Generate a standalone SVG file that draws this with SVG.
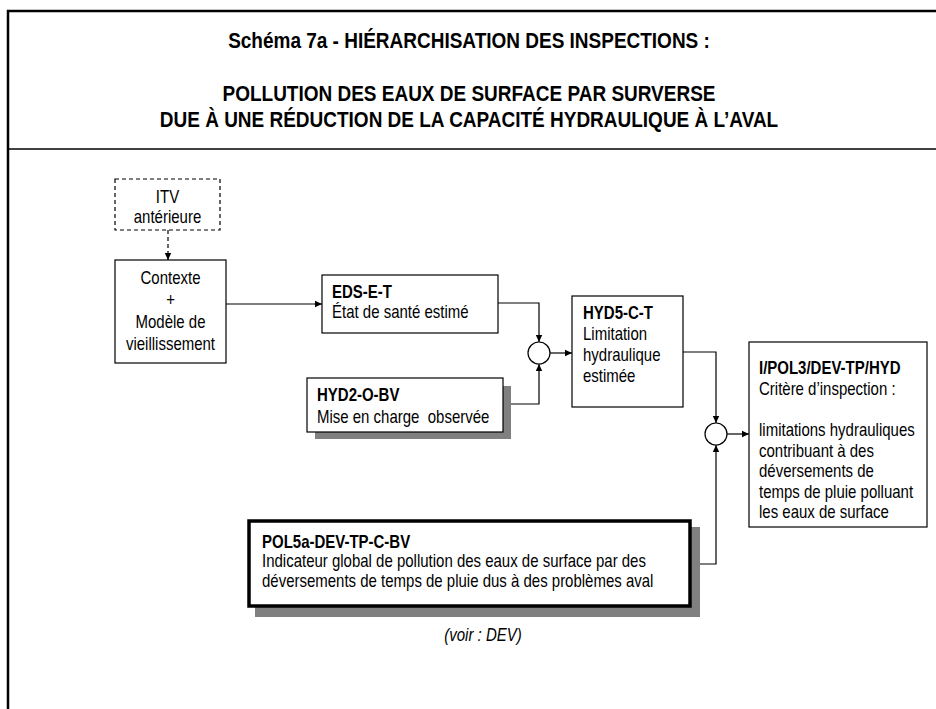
<svg xmlns="http://www.w3.org/2000/svg" width="936" height="709" viewBox="0 0 936 709">
<defs>
<marker id="arr" markerWidth="8" markerHeight="8" refX="7" refY="4" orient="auto" markerUnits="userSpaceOnUse"><path d="M0,0.8 L7,4 L0,7.2 z" fill="#000"/></marker>
</defs>
<style>
.box{fill:#fff;stroke:#000;stroke-width:1.2}
.dash{fill:#fff;stroke:#000;stroke-width:1.2;stroke-dasharray:4,3}
.sh{fill:#808080}
.t{font-family:"Liberation Sans",Arial,sans-serif;font-size:15px;fill:#000}
.ti{font-family:"Liberation Sans",Arial,sans-serif;font-size:19px;font-weight:bold;fill:#000;text-anchor:middle}
.b{font-weight:bold}
.c{text-anchor:middle}
.ln{fill:none;stroke:#000;stroke-width:1.2}
</style>
<rect width="936" height="709" fill="#fff"/>
<g id="frame">
<path d="M8,709 V11 H936" fill="none" stroke="#000" stroke-width="2.5"/>
<line x1="8" y1="149" x2="936" y2="149" stroke="#000" stroke-width="1.5"/>
</g>
<g id="title">
<text class="ti" transform="matrix(1 0 0 1.2 469 48)">Schéma 7a - HIÉRARCHISATION DES INSPECTIONS :</text>
<text class="ti" transform="matrix(1 0 0 1.2 469 101)">POLLUTION DES EAUX DE SURFACE PAR SURVERSE</text>
<text class="ti" transform="matrix(1 0 0 1.2 469 127)">DUE À UNE RÉDUCTION DE LA CAPACITÉ HYDRAULIQUE À L’AVAL</text>
</g>
<g id="connectors">
<line class="ln" x1="168" y1="230" x2="168" y2="260" stroke-dasharray="4,3" marker-end="url(#arr)"/>
<line class="ln" x1="226" y1="304" x2="322" y2="304" marker-end="url(#arr)"/>
<path class="ln" d="M498,303 H539 V342" marker-end="url(#arr)"/>
<path class="ln" d="M503,404 H539 V364" marker-end="url(#arr)"/>
<path class="ln" d="M550,353 H572" marker-end="url(#arr)"/>
<path class="ln" d="M683,352 H716 V423" marker-end="url(#arr)"/>
<path class="ln" d="M692,564 H716 V445" marker-end="url(#arr)"/>
<path class="ln" d="M727,434 H749" marker-end="url(#arr)"/>
</g>
<g id="itv">
<rect class="dash" x="115" y="179" width="105" height="51"/>
<text class="t c" transform="matrix(1 0 0 1.2 167.5 203)">ITV</text>
<text class="t c" transform="matrix(1 0 0 1.2 167.5 223)">antérieure</text>
</g>
<g id="contexte">
<rect class="box" x="115" y="260" width="111" height="103"/>
<text class="t c" transform="matrix(1 0 0 1.2 170.5 284)">Contexte</text>
<text class="t c" transform="matrix(1 0 0 1.2 170.5 306)">+</text>
<text class="t c" transform="matrix(1 0 0 1.2 170.5 328)">Modèle de</text>
<text class="t c" transform="matrix(1 0 0 1.2 170.5 350)">vieillissement</text>
</g>
<g id="eds">
<rect class="box" x="322" y="275" width="176" height="58"/>
<text class="t b" transform="matrix(1 0 0 1.2 332 298)">EDS-E-T</text>
<text class="t" transform="matrix(1 0 0 1.2 332 318)">État de santé estimé</text>
</g>
<g id="hyd2">
<rect class="sh" x="315" y="386" width="196" height="53"/>
<rect class="box" x="307" y="378" width="196" height="54"/>
<text class="t b" transform="matrix(1 0 0 1.2 317 401)">HYD2-O-BV</text>
<text class="t" transform="matrix(1 0 0 1.2 317 423)" xml:space="preserve">Mise en charge  observée</text>
</g>
<g id="junction1">
<circle class="box" cx="539" cy="353" r="11"/>
</g>
<g id="hyd5">
<rect class="box" x="572" y="296" width="111" height="111"/>
<text class="t b" transform="matrix(1 0 0 1.2 583 319)">HYD5-C-T</text>
<text class="t" transform="matrix(1 0 0 1.2 583 340)">Limitation</text>
<text class="t" transform="matrix(1 0 0 1.2 583 361)">hydraulique</text>
<text class="t" transform="matrix(1 0 0 1.2 583 382)">estimée</text>
</g>
<g id="junction2">
<circle class="box" cx="716" cy="434" r="11"/>
</g>
<g id="ipol3">
<rect class="box" x="749" y="342" width="178" height="185"/>
<text class="t b" transform="matrix(1 0 0 1.2 759 374)">I/POL3/DEV-TP/HYD</text>
<text class="t" transform="matrix(1 0 0 1.2 759 395)">Critère d’inspection :</text>
<text class="t" transform="matrix(1 0 0 1.2 759 436)">limitations hydrauliques</text>
<text class="t" transform="matrix(1 0 0 1.2 759 457)">contribuant à des</text>
<text class="t" transform="matrix(1 0 0 1.2 759 477)">déversements de</text>
<text class="t" transform="matrix(1 0 0 1.2 759 498)">temps de pluie polluant</text>
<text class="t" transform="matrix(1 0 0 1.2 759 518)">les eaux de surface</text>
</g>
<g id="pol5a">
<rect class="sh" x="255" y="527" width="445" height="90"/>
<rect x="249" y="521" width="441" height="85" fill="#fff" stroke="#000" stroke-width="3.5"/>
<text class="t b" transform="matrix(1 0 0 1.2 262 548)">POL5a-DEV-TP-C-BV</text>
<text class="t" transform="matrix(1 0 0 1.2 262 567)">Indicateur global de pollution des eaux de surface par des</text>
<text class="t" transform="matrix(1 0 0 1.2 262 587)">déversements de temps de pluie dus à des problèmes aval</text>
</g>
<g id="note">
<text class="t c" transform="matrix(1 0 0 1.2 483 641)" font-style="italic">(voir : DEV)</text>
</g>
</svg>
